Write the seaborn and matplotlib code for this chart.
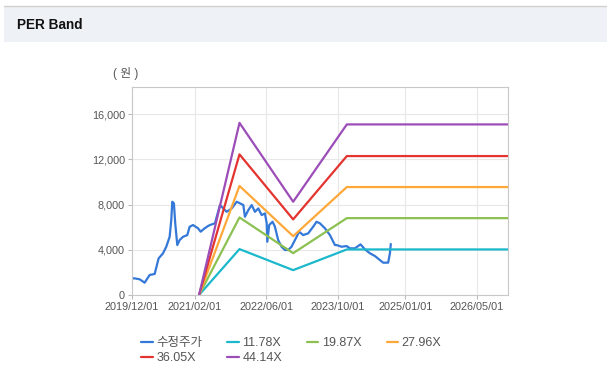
import pandas as pd
import numpy as np
import matplotlib.pyplot as plt
import matplotlib.dates as mdates
from matplotlib.patches import Rectangle
from matplotlib.ticker import FuncFormatter
import seaborn as sns

# adjusted close (수정주가)
price_dates = [
    "2019-12-01", "2019-12-15", "2020-01-22", "2020-02-25", "2020-03-30", "2020-05-03",
    "2020-05-30", "2020-06-29", "2020-07-21", "2020-08-13", "2020-08-24", "2020-08-31",
    "2020-09-11", "2020-09-20", "2020-10-04", "2020-10-20", "2020-11-12", "2020-12-11",
    "2020-12-27", "2021-01-19", "2021-02-22", "2021-03-12", "2021-04-08", "2021-05-01",
    "2021-05-14", "2021-06-17", "2021-07-21", "2021-08-13", "2021-09-05", "2021-10-09",
    "2021-11-12", "2021-12-04", "2021-12-27", "2022-01-07", "2022-01-30", "2022-02-22",
    "2022-03-16", "2022-04-08", "2022-05-01", "2022-05-23", "2022-06-04", "2022-06-08",
    "2022-06-21", "2022-07-14", "2022-07-30", "2022-08-21", "2022-09-13", "2022-10-06",
    "2022-10-28", "2022-11-20", "2022-12-13", "2023-01-11", "2023-02-07", "2023-03-13",
    "2023-04-16", "2023-05-09", "2023-06-01", "2023-07-05", "2023-08-08", "2023-09-11",
    "2023-09-22", "2023-10-26", "2023-11-29", "2023-12-22", "2024-01-25", "2024-03-03",
    "2024-04-02", "2024-05-06", "2024-06-09", "2024-07-13", "2024-08-04", "2024-09-07",
    "2024-09-19", "2024-09-25",
]
price_values = [
    1450, 1480, 1390, 1090, 1770, 1860,
    3240, 3690, 4270, 5150, 6630, 8250,
    8110, 6340, 4420, 4860, 5150, 5300,
    6040, 6190, 5900, 5600, 5900, 6100,
    6190, 6340, 7960, 7660, 7360, 7660,
    8250, 8110, 7960, 6920, 7510, 7960,
    7360, 7660, 7070, 7220, 6340, 4710,
    6190, 6480, 6040, 4860, 4270, 3980,
    3980, 4270, 4860, 5600, 5300, 5450,
    6040, 6480, 6340, 5900, 5300, 4420,
    4420, 4270, 4330, 4130, 4130, 4480,
    4040, 3690, 3450, 3090, 2860, 2860,
    3690, 4510,
]

# PER band lines
band_dates = ["2021-03-01", "2021-12-01", "2022-12-01", "2023-12-01", "2026-12-01"]
band_labels = ["11.78X", "19.87X", "27.96X", "36.05X", "44.14X"]
band_11 = [0, 4060, 2200, 4030, 4030]
band_19 = [0, 6860, 3700, 6800, 6800]
band_27 = [0, 9650, 5200, 9550, 9550]
band_36 = [0, 12440, 6690, 12290, 12290]
band_44 = [0, 15230, 8250, 15090, 15090]
band_values = [band_11, band_19, band_27, band_36, band_44]

price_color = "#3478d8"
band_colors = ["#1cb8cc", "#8cc152", "#ffa83a", "#e3342f", "#9c4db8"]

sns.set_style("white")
plt.rcParams["font.family"] = ["Liberation Sans", "Noto Sans CJK KR"]

fig = plt.figure(figsize=(6.07, 3.9), dpi=100)
W, H = 607, 390

# header strip
fig.patches.append(Rectangle((4 / W, 1 - 42 / H), 1, 36 / H, transform=fig.transFigure,
                             facecolor="#eef1f6", edgecolor="none", zorder=0))
fig.lines.append(plt.Line2D([4 / W, 1], [1 - 6 / H, 1 - 6 / H], transform=fig.transFigure,
                            color="#d0d0d0", lw=1))
fig.text(17 / W, 1 - 25 / H, "PER Band", fontsize=9.8, fontweight="bold",
         va="center", ha="left", color="#111111")

ax = fig.add_axes([132 / W, 1 - 295 / H, 376 / W, 208 / H])

price_df = pd.DataFrame({"date": pd.to_datetime(price_dates), "value": price_values})
sns.lineplot(data=price_df, x="date", y="value", ax=ax, color=price_color, lw=1.6,
             label="수정주가")

bd = pd.to_datetime(band_dates)
for lab, vals, col in zip(band_labels, band_values, band_colors):
    df = pd.DataFrame({"date": bd, "value": vals})
    sns.lineplot(data=df, x="date", y="value", ax=ax, color=col, lw=1.6, label=lab)

ax.set_xlim(pd.Timestamp("2019-12-01"), pd.Timestamp("2026-12-01"))
ax.set_ylim(0, 18400)
xt = pd.to_datetime(["2019-12-01", "2021-02-01", "2022-06-01", "2023-10-01",
                     "2025-01-01", "2026-05-01"])
ax.set_xticks(xt)
ax.xaxis.set_major_formatter(mdates.DateFormatter("%Y/%m/%d"))
ax.set_yticks([0, 4000, 8000, 12000, 16000])
ax.yaxis.set_major_formatter(FuncFormatter(lambda v, p: f"{int(v):,}"))
ax.set_xlabel("")
ax.set_ylabel("")
ax.grid(True, color="#e8e8e8", lw=0.8)
ax.set_axisbelow(True)
for s in ax.spines.values():
    s.set_color("#c8c8c8")
    s.set_linewidth(0.8)
ax.tick_params(axis="both", labelsize=7.8, colors="#555555", length=3, width=0.8,
               color="#bbbbbb", pad=2)
ax.tick_params(axis="both", which="both", bottom=True, left=True)

fig.text(126 / W, 1 - 74 / H, "( 원 )", fontsize=8.5, color="#555555", ha="center", va="center")

# legend laid out row by row, as in the source
handles, labels = ax.get_legend_handles_labels()
ax.get_legend().remove()
order = [0, 4, 1, 5, 2, 3]
fig.legend([handles[i] for i in order], [labels[i] for i in order], ncol=4,
           loc="upper left", bbox_to_anchor=(130 / W, 1 - 326 / H),
           frameon=False, fontsize=9, handlelength=0.9, handletextpad=0.3,
           columnspacing=2.0, labelspacing=0.25, labelcolor="#555555")

fig.savefig("out.png", dpi=100)
